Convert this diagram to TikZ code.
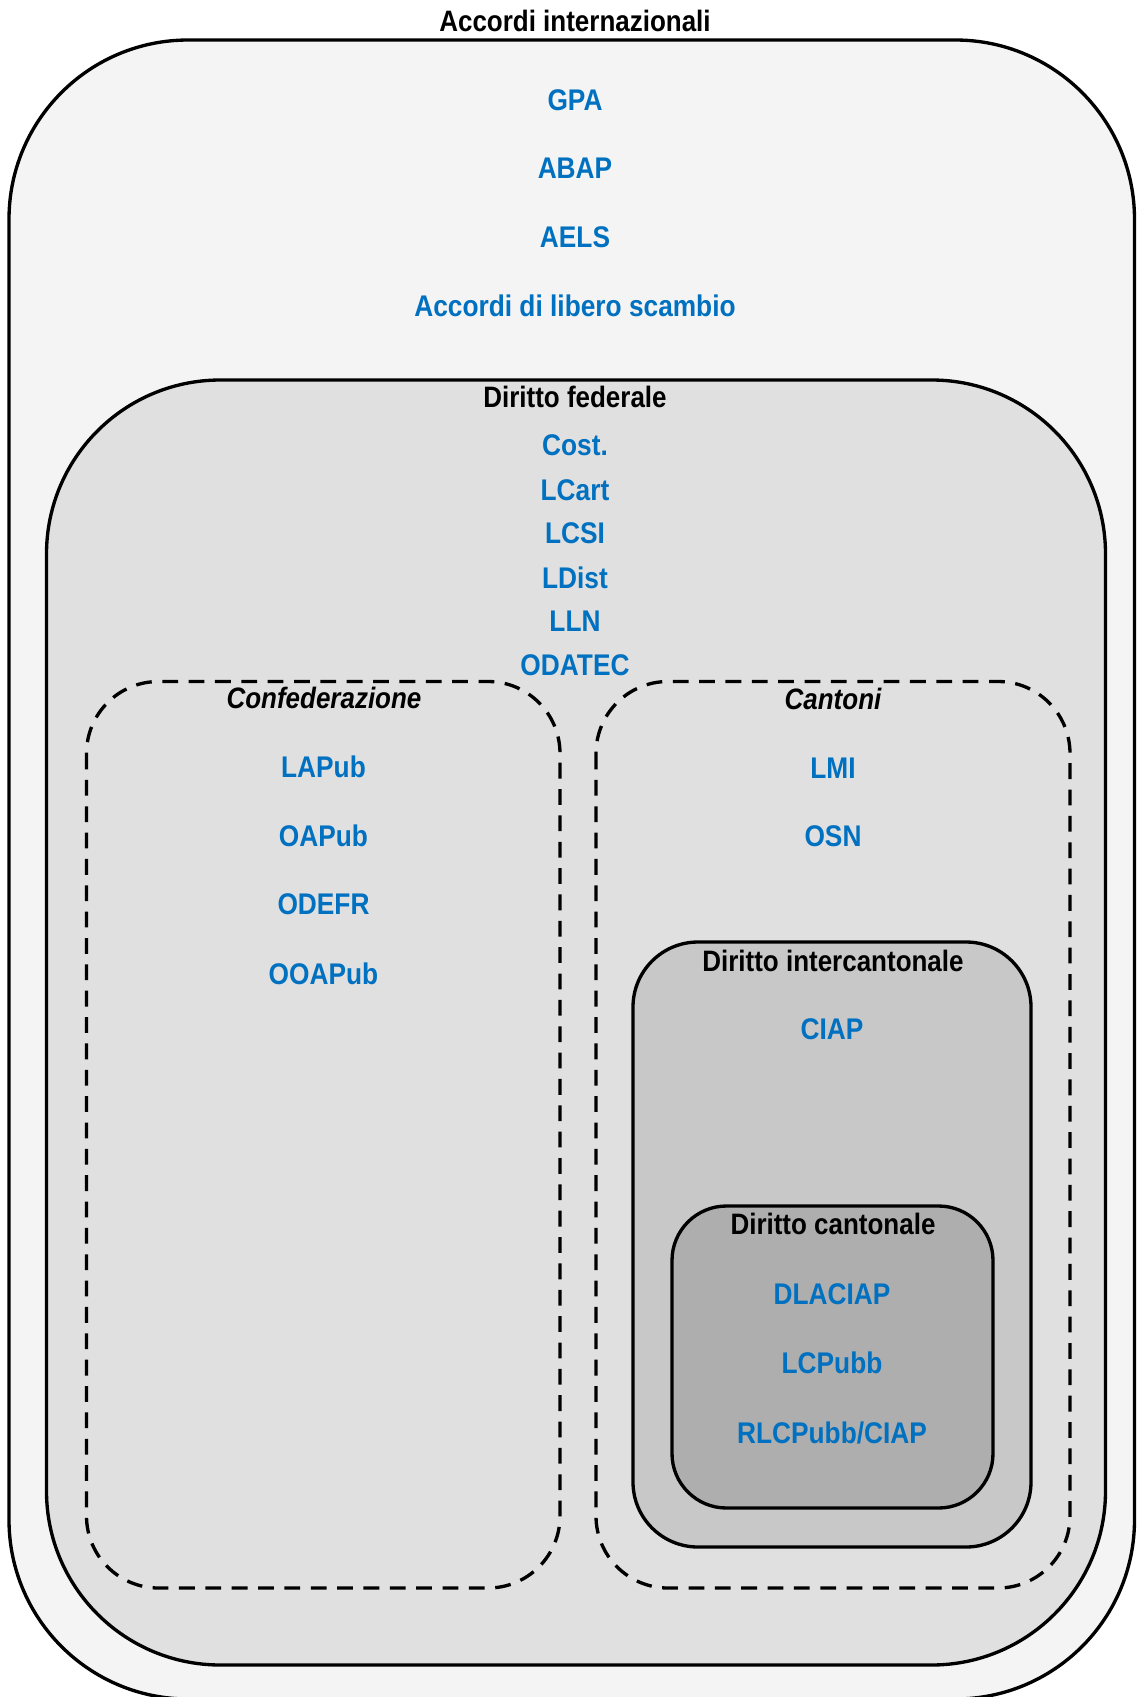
\documentclass[tikz,border=0pt]{standalone}
\usepackage{fontspec}
\newfontfamily\narrowsans{Liberation Sans}[FakeStretch=0.88]
\usepackage{xcolor}
\definecolor{lawblue}{HTML}{0070C0}
\definecolor{intlgray}{HTML}{F4F4F4}
\definecolor{fedgray}{HTML}{E0E0E0}
\definecolor{intergray}{HTML}{C8C8C8}
\definecolor{cantgray}{HTML}{AEAEAE}

\begin{document}
\begin{tikzpicture}[x=0.02cm, y=-0.02cm,
  frame/.style={draw=black, line width=1.9pt},
  dframe/.style={draw=black, line width=1.9pt, dash pattern=on 9pt off 6pt},
  title/.style={font=\narrowsans\bfseries\fontsize{16.8}{19}\selectfont, inner sep=0pt},
  subtitle/.style={font=\narrowsans\bfseries\itshape\fontsize{16.8}{19}\selectfont, inner sep=0pt},
  act/.style={font=\narrowsans\bfseries\fontsize{17}{20}\selectfont, text=lawblue, inner sep=0pt}]
  \useasboundingbox (0,0) rectangle (1137,1697);

  % ── Accordi internazionali ──
  \draw[frame, fill=intlgray, rounded corners=102pt] (9,40) rectangle (1134.5,1699);
  \node[title] (intl) at (575,21) {Accordi internazionali};
  \node[act] (gpa) at (575,100) {GPA};
  \node[act] (abap) at (575,168) {ABAP};
  \node[act] (aels) at (575,237) {AELS};
  \node[act] (als) at (575,306) {Accordi di libero scambio};

  % ── Diritto federale ──
  \draw[frame, fill=fedgray, rounded corners=99pt] (46.5,380) rectangle (1105.5,1665);
  \node[title] (fed) at (575,397) {Diritto federale};
  \node[act] (cost) at (575,445) {Cost.};
  \node[act] (lcart) at (575,490) {LCart};
  \node[act] (lcsi) at (575,533) {LCSI};
  \node[act] (ldist) at (575,578) {LDist};
  \node[act] (lln) at (575,621) {LLN};
  \node[act] (odatec) at (575,665) {ODATEC};

  % Confederazione
  \draw[dframe, rounded corners=41pt] (86.5,681.5) rectangle (560,1588);
  \node[subtitle] (conf) at (324,698) {Confederazione};
  \node[act] (lapub) at (323.5,767) {LAPub};
  \node[act] (oapub) at (323.5,836) {OAPub};
  \node[act] (odefr) at (323.5,904) {ODEFR};
  \node[act] (ooapub) at (323.5,974) {OOAPub};

  % Cantoni
  \draw[dframe, rounded corners=41pt] (596,681.5) rectangle (1070,1588);
  \node[subtitle] (cant) at (833,699) {Cantoni};
  \node[act] (lmi) at (833,768) {LMI};
  \node[act] (osn) at (833,836) {OSN};

  % ── Diritto intercantonale ──
  \draw[frame, fill=intergray, rounded corners=37pt] (633,942) rectangle (1031,1547);
  \node[title] (inter) at (833,961) {Diritto intercantonale};
  \node[act] (ciap) at (832,1029) {CIAP};

  % ── Diritto cantonale ──
  \draw[frame, fill=cantgray, rounded corners=31pt] (672,1206) rectangle (993,1508);
  \node[title] (cantonal) at (833,1224) {Diritto cantonale};
  \node[act] (dlaciap) at (832,1294) {DLACIAP};
  \node[act] (lcpubb) at (832,1363) {LCPubb};
  \node[act] (rlcpubb) at (832,1432.5) {RLCPubb/CIAP};
\end{tikzpicture}
\end{document}
